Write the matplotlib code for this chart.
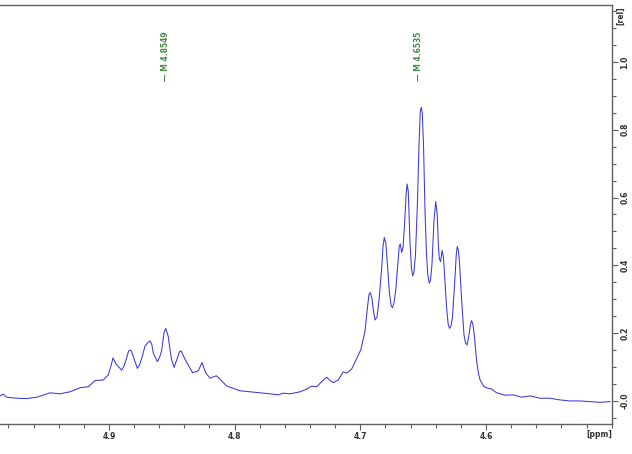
import matplotlib
matplotlib.use('Agg')
import matplotlib.pyplot as plt
from matplotlib.ticker import MultipleLocator, FixedLocator

# spectrum trace (ppm, relative intensity)
ppm = [4.9867, 4.9841, 4.9814, 4.9734, 4.9655, 4.9575, 4.9469, 4.9390, 4.9310, 4.9230,
       4.9164, 4.9111, 4.9045, 4.9005, 4.8984, 4.8968, 4.8944, 4.8899, 4.8880, 4.8864,
       4.8844, 4.8832, 4.8820, 4.8806, 4.8774, 4.8757, 4.8739, 4.8713, 4.8689, 4.8673,
       4.8660, 4.8647, 4.8615, 4.8596, 4.8580, 4.8562, 4.8548, 4.8528, 4.8514, 4.8501,
       4.8482, 4.8456, 4.8439, 4.8427, 4.8411, 4.8395, 4.8369, 4.8334, 4.8289, 4.8272,
       4.8260, 4.8244, 4.8228, 4.8196, 4.8164, 4.8143, 4.8111, 4.8063, 4.8011, 4.7957,
       4.7878, 4.7798, 4.7719, 4.7652, 4.7613, 4.7559, 4.7480, 4.7426, 4.7387, 4.7347,
       4.7307, 4.7267, 4.7241, 4.7215, 4.7175, 4.7135, 4.7108, 4.7069, 4.7034, 4.6997,
       4.6963, 4.6944, 4.6931, 4.6920, 4.6907, 4.6895, 4.6883, 4.6867, 4.6851, 4.6830,
       4.6819, 4.6809, 4.6796, 4.6784, 4.6769, 4.6756, 4.6745, 4.6732, 4.6718, 4.6702,
       4.6690, 4.6682, 4.6671, 4.6660, 4.6648, 4.6636, 4.6628, 4.6618, 4.6605, 4.6593,
       4.6583, 4.6573, 4.6561, 4.6546, 4.6533, 4.6523, 4.6515, 4.6507, 4.6497, 4.6485,
       4.6473, 4.6463, 4.6451, 4.6441, 4.6430, 4.6414, 4.6400, 4.6388, 4.6379, 4.6371,
       4.6361, 4.6349, 4.6338, 4.6328, 4.6313, 4.6301, 4.6290, 4.6279, 4.6267, 4.6247,
       4.6236, 4.6228, 4.6219, 4.6211, 4.6193, 4.6175, 4.6163, 4.6151, 4.6138, 4.6123,
       4.6114, 4.6103, 4.6093, 4.6074, 4.6059, 4.6047, 4.6016, 4.5981, 4.5954, 4.5915,
       4.5849, 4.5782, 4.5716, 4.5650, 4.5570, 4.5491, 4.5411, 4.5331, 4.5252, 4.5172,
       4.5093, 4.5013]
intensity = [0.015, 0.020, 0.011, 0.008, 0.007, 0.011, 0.024, 0.021, 0.027, 0.039,
             0.042, 0.060, 0.062, 0.077, 0.103, 0.127, 0.109, 0.091, 0.103, 0.121,
             0.147, 0.150, 0.146, 0.131, 0.096, 0.106, 0.126, 0.162, 0.173, 0.177,
             0.168, 0.141, 0.116, 0.130, 0.150, 0.201, 0.214, 0.190, 0.150, 0.121,
             0.099, 0.126, 0.145, 0.148, 0.136, 0.123, 0.106, 0.083, 0.089, 0.103,
             0.113, 0.097, 0.082, 0.067, 0.072, 0.074, 0.062, 0.044, 0.037, 0.030,
             0.027, 0.024, 0.021, 0.018, 0.023, 0.021, 0.027, 0.035, 0.044, 0.042,
             0.057, 0.070, 0.060, 0.054, 0.062, 0.086, 0.082, 0.094, 0.121, 0.150,
             0.204, 0.273, 0.314, 0.320, 0.301, 0.265, 0.239, 0.248, 0.298, 0.391,
             0.457, 0.482, 0.463, 0.401, 0.322, 0.283, 0.275, 0.289, 0.327, 0.401,
             0.457, 0.463, 0.438, 0.454, 0.519, 0.608, 0.640, 0.617, 0.470, 0.392,
             0.369, 0.381, 0.431, 0.578, 0.755, 0.853, 0.866, 0.850, 0.755, 0.558,
             0.431, 0.372, 0.347, 0.357, 0.401, 0.529, 0.588, 0.552, 0.460, 0.419,
             0.411, 0.444, 0.422, 0.363, 0.273, 0.227, 0.214, 0.221, 0.245, 0.362,
             0.434, 0.456, 0.442, 0.410, 0.293, 0.195, 0.171, 0.165, 0.189, 0.227,
             0.237, 0.224, 0.195, 0.116, 0.080, 0.062, 0.042, 0.037, 0.035, 0.024,
             0.017, 0.018, 0.011, 0.015, 0.008, 0.008, 0.003, 0.000, 0.000, -0.002,
             -0.004, -0.002]

# multiplet labels
peak_ppm = [4.8549, 4.6535]
peak_text = ['M 4.8549', 'M 4.6535']

x_ticks = [4.9, 4.8, 4.7, 4.6]
y_ticks = [0.0, 0.2, 0.4, 0.6, 0.8, 1.0]
y_tick_labels = ['-0.0', '0.2', '0.4', '0.6', '0.8', '1.0']

fig = plt.figure(figsize=(6.32, 4.54), dpi=100)
ax = fig.add_axes([0.0, 0.0661, 0.9684, 0.9229])

ax.plot(ppm, intensity, color='#3a3ad8', lw=0.75)

ax.set_xlim(4.9867, 4.4997)
ax.set_ylim(-0.068, 1.168)

frame_col = '#606060'
ax.spines['left'].set_visible(False)
for s in ['top', 'right', 'bottom']:
    ax.spines[s].set_color(frame_col)
    ax.spines[s].set_linewidth(1.0)

ax.yaxis.tick_right()
ax.yaxis.set_major_locator(FixedLocator(y_ticks))
ax.yaxis.set_minor_locator(MultipleLocator(0.05))
ax.set_yticklabels(y_tick_labels, rotation=90, va='center', fontsize=5.5,
                   fontweight='bold', color='#333333')
ax.xaxis.set_major_locator(FixedLocator(x_ticks))
ax.xaxis.set_minor_locator(MultipleLocator(0.02))
ax.set_xticklabels([str(v) for v in x_ticks], fontsize=5.5, fontweight='bold',
                   color='#333333')
ax.tick_params(which='both', direction='out', color=frame_col, width=0.8)
ax.tick_params(which='major', length=4, pad=2)
ax.tick_params(which='minor', length=3)

ax.text(1.014, 0.975, '[rel]', transform=ax.transAxes, rotation=90, fontsize=5.5,
        fontweight='bold', color='#333333', ha='center', va='center')
ax.text(0.98, -0.024, '[ppm]', transform=ax.transAxes, fontsize=5.5,
        fontweight='bold', color='#333333', ha='center', va='center')

for p, t in zip(peak_ppm, peak_text):
    ax.text(p, 0.945, '\u2014 ' + t, rotation=90, fontsize=5.5, fontweight='bold',
            color='#4a8a4a', ha='center', va='bottom')

plt.savefig('out.png', dpi=100)
plt.close(fig)
